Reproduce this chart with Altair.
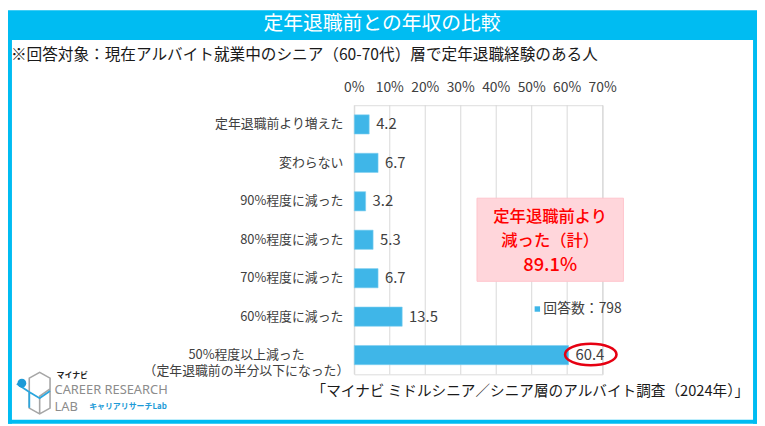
import altair as alt
import pandas as pd

# ---- data ----
keys = ["c1", "c2", "c3", "c4", "c5", "c6", "c7"]
labels = ["定年退職前より増えた", "変わらない", "90%程度に減った", "80%程度に減った",
          "70%程度に減った", "60%程度に減った",
          "50%程度以上減った\n（定年退職前の半分以下になった）"]
values = [4.2, 6.7, 3.2, 5.3, 6.7, 13.5, 60.4]
ticks = [0, 10, 20, 30, 40, 50, 60, 70]
tick_labels = ["0%", "10%", "20%", "30%", "40%", "50%", "60%", "70%"]

title_text = "定年退職前との年収の比較"
subtitle_text = "※回答対象：現在アルバイト就業中のシニア（60-70代）層で定年退職経験のある人"
source_text = "「マイナビ ミドルシニア／シニア層のアルバイト調査（2024年）」"
callout_lines = ["定年退職前より", "減った（計）", "89.1%"]
legend_text = "回答数：798"

df = pd.DataFrame({"key": keys, "label": labels, "value": values})
tdf = pd.DataFrame({"tick": ticks, "tlabel": tick_labels})

# ---- layout ----
W, H = 757, 418          # whole chart (page margin 8px)
PL, PT = 350, 96         # view origin in chart coords
VW, VH = 251, 272        # plot area
FONT = "Noto Sans CJK JP"
CYAN = "#00BCF2"
BAR = "#3FB6E8"
TXT = "#404040"


def VX(rx):
    return rx - 8 - PL


def VY(ry):
    return ry - 8 - PT


base = alt.Chart(df)

yscale = alt.Scale(domain=keys, paddingInner=0.5, paddingOuter=0.25)
xscale = alt.Scale(domain=[0, 70], nice=False)

grid = alt.Chart(tdf).mark_rule(color="#D9D9D9", strokeWidth=1).encode(
    x=alt.X("tick:Q", scale=xscale, axis=None),
    y=alt.value(0), y2=alt.value(VH),
)
grid_labels = alt.Chart(tdf).mark_text(
    align="center", baseline="middle", fontSize=14, font=FONT, color=TXT).encode(
    x=alt.X("tick:Q", scale=xscale, axis=None),
    y=alt.value(VY(87)),
    text="tlabel:N",
)

bars = base.mark_bar(color=BAR, stroke="#7FD0F0", strokeWidth=0.6).encode(
    x=alt.X("value:Q", scale=xscale, axis=None),
    y=alt.Y("key:N", scale=yscale, axis=None, sort=keys),
)

value_text = base.mark_text(align="left", baseline="middle", dx=7, fontSize=15,
                            font=FONT, color=TXT).encode(
    x=alt.X("value:Q", scale=xscale, axis=None),
    y=alt.Y("key:N", scale=yscale, sort=keys, axis=None),
    text=alt.Text("value:Q", format=".1f"),
)

cat_text = base.transform_filter(alt.datum.key != "c7").mark_text(
    align="right", baseline="middle", fontSize=13, font=FONT, color=TXT).encode(
    x=alt.value(VX(347)),
    y=alt.Y("key:N", scale=yscale, sort=keys, axis=None),
    text="label:N",
)

cat_text_last = base.transform_filter(alt.datum.key == "c7").mark_text(
    align="center", baseline="middle", fontSize=13, font=FONT, color=TXT,
    lineBreak="\n", lineHeight=16).encode(
    x=alt.value(VX(249)),
    y=alt.Y("key:N", scale=yscale, sort=keys, axis=None),
    text="label:N",
)

one = pd.DataFrame({"a": [0]})
ob = alt.Chart(one)


def rect(x1, y1, x2, y2, fill, stroke=None):
    kw = dict(color=fill)
    if stroke:
        kw.update(stroke=stroke, strokeWidth=1)
    return ob.mark_rect(**kw).encode(
        x=alt.value(VX(x1)), x2=alt.value(VX(x2)),
        y=alt.value(VY(y1)), y2=alt.value(VY(y2)))


def txt(s, rx, ry, size, color=TXT, align="left", weight="normal", font=FONT):
    return ob.mark_text(align=align, baseline="middle", fontSize=size, color=color,
                        fontWeight=weight, font=font).encode(
        x=alt.value(VX(rx)), y=alt.value(VY(ry)), text=alt.value(s))


frame = [
    rect(8, 8, 765, 38, CYAN),
    rect(8, 38, 12, 426, CYAN),
    rect(761, 38, 765, 426, CYAN),
    rect(8, 422, 765, 426, CYAN),
]

texts = [
    txt(title_text, 386, 22, 20, color="white", align="center"),
    txt(subtitle_text, 11, 53, 15.8, color="#1a1a1a"),
    txt(source_text, 757, 394, 14.8, color="#1a1a1a", align="right"),
]

pink = rect(482, 198, 630, 282, "#FFD6DB", stroke="#FFC4CC")
callout = [
    txt(callout_lines[0], 556, 217, 16.5, color="#FF0000", align="center", weight=500),
    txt(callout_lines[1], 556, 241, 16.5, color="#FF0000", align="center", weight=500),
    txt(callout_lines[2], 556, 266, 18.5, color="#FF0000", align="center", weight=500),
]

legend = [
    ob.mark_square(color=BAR, size=30, opacity=1).encode(
        x=alt.value(VX(543)), y=alt.value(VY(310))),
    txt(legend_text, 549, 310, 14, color=TXT),
]

ellipse = ob.mark_point(
    shape="M-1,0 A1,0.42 0 1,1 1,0 A1,0.42 0 1,1 -1,0 Z",
    size=52 * 52, filled=False, stroke="#E60012", strokeWidth=2.6, opacity=1).encode(
    x=alt.value(VX(597)), y=alt.value(VY(356)))

# logo (approximation)
logo = [
    ob.mark_point(
        shape="M-0.5,-0.72 L0,-1 L0.5,-0.72 L0.5,0.72 L0,1 L-0.5,0.72 Z M0,1 L0,0.15 L0.5,-0.2",
        size=42 * 42, filled=False, stroke="#A6A6A6", strokeWidth=1.6, opacity=1).encode(
        x=alt.value(VX(40)), y=alt.value(VY(395))),
    ob.mark_point(
        shape="M-1.1,-0.45 L-0.5,-0.05 L-0.5,0.7 M-0.5,-0.05 L0,0.25 L0.5,-0.1",
        size=42 * 42, filled=False, stroke="#2BA6DE", strokeWidth=1.8, opacity=1).encode(
        x=alt.value(VX(40)), y=alt.value(VY(395))),
    ob.mark_circle(color="#1E9BD7", size=80, opacity=1).encode(
        x=alt.value(VX(22)), y=alt.value(VY(385))),
    txt("マイナビ", 57, 378, 8, color="#222", weight="bold"),
    txt("CAREER RESEARCH", 55, 392, 13, color="#8C8C8C", font="Noto Sans"),
    txt("LAB", 55, 409, 13, color="#8C8C8C", font="Noto Sans"),
    txt("キャリアリサーチLab", 90, 409, 8, color="#1E9BD7", weight="bold"),
]

chart = alt.layer(
    *frame, *texts, grid, grid_labels, bars, value_text, cat_text, cat_text_last,
    pink, *callout, *legend, ellipse, *logo
).properties(
    width=VW, height=VH,
    autosize=alt.AutoSizeParams(type="none"),
    padding={"left": PL, "top": PT, "right": W - PL - VW, "bottom": H - PT - VH},
).configure_view(stroke=None).configure(background="white")

chart.save("out.html", embed_options={"renderer": "svg", "actions": False})
